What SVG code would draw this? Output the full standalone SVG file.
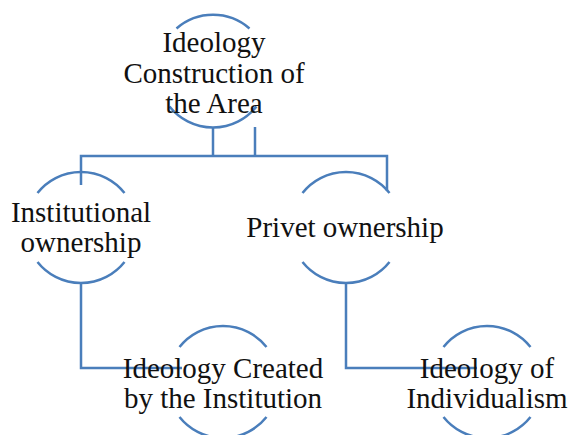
<svg xmlns="http://www.w3.org/2000/svg" width="571" height="435" viewBox="0 0 571 435">
  <style>
    .arc { fill: none; stroke: #4a7ebb; stroke-width: 2.5; }
    .conn { fill: none; stroke: #4a7ebb; stroke-width: 2.5; stroke-linejoin: miter; }
    .label { font-family: "Liberation Serif", "Times New Roman", serif; font-size: 29px; fill: #111; text-anchor: middle; }
  </style>
  <rect width="571" height="435" fill="#ffffff"/>

  <!-- connectors (drawn first so labels sit on top) -->
  <g id="connectors">
    <path class="conn" d="M213 127 V156"/>
    <path class="conn" d="M255 127 V156"/>
    <path class="conn" d="M81 185 V156 H387 V191"/>
    <path class="conn" d="M81 283 V368 H182"/>
    <path class="conn" d="M346 283 V368 H477"/>
  </g>

  <!-- root: circle (r 55.5) shown as top and bottom arcs around the label -->
  <g id="node-root">
    <path class="arc" d="M176.5 28.5 A55.5 55.5 0 0 1 249.5 28.5"/>
    <path class="arc" d="M169.5 106.5 A55.5 55.5 0 0 0 256.5 106.5"/>
    <text class="label" x="214" y="52">Ideology</text>
    <text class="label" x="214" y="82.5">Construction of</text>
    <text class="label" x="214" y="113">the Area</text>
  </g>

  <g id="node-institutional">
    <path class="arc" d="M37.5 193 A55.5 55.5 0 0 1 124.5 193"/>
    <path class="arc" d="M37.5 262 A55.5 55.5 0 0 0 124.5 262"/>
    <text class="label" x="81" y="222">Institutional</text>
    <text class="label" x="81" y="252">ownership</text>
  </g>

  <g id="node-privet">
    <path class="arc" d="M302.5 193 A55.5 55.5 0 0 1 389.5 193"/>
    <path class="arc" d="M302.5 262 A55.5 55.5 0 0 0 389.5 262"/>
    <text class="label" x="345" y="237">Privet ownership</text>
  </g>

  <g id="node-institution-ideology">
    <path class="arc" d="M179.5 347 A55.5 55.5 0 0 1 266.5 347"/>
    <path class="arc" d="M179.5 417 A55.5 55.5 0 0 0 266.5 417"/>
    <text class="label" x="223" y="377.5">Ideology Created</text>
    <text class="label" x="223" y="407.5">by the Institution</text>
  </g>

  <g id="node-individualism">
    <path class="arc" d="M443.5 347 A55.5 55.5 0 0 1 530.5 347"/>
    <path class="arc" d="M443.5 417 A55.5 55.5 0 0 0 530.5 417"/>
    <text class="label" x="487" y="377.5">Ideology of</text>
    <text class="label" x="487" y="407.5">Individualism</text>
  </g>
</svg>
